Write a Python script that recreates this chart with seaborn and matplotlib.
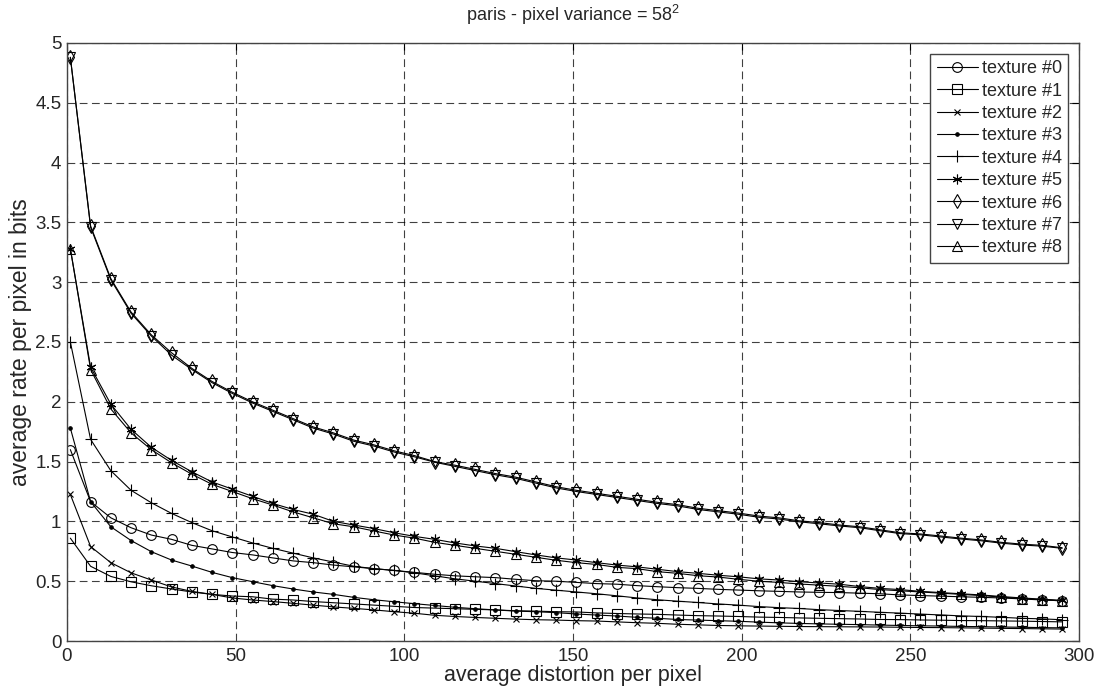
import numpy as np
import pandas as pd
import matplotlib
matplotlib.use("Agg")
import matplotlib.pyplot as plt
import seaborn as sns

# ---- data ----
distortion = [1, 7, 13, 19, 25, 31, 37, 43, 49, 55, 61, 67, 73, 79, 85, 91, 97, 103, 109, 115,
              121, 127, 133, 139, 145, 151, 157, 163, 169, 175, 181, 187, 193, 199, 205, 211, 217,
              223, 229, 235, 241, 247, 253, 259, 265, 271, 277, 283, 289, 295]

texture0 = [1.60, 1.165, 1.03, 0.947, 0.886, 0.85, 0.80, 0.77, 0.74, 0.72, 0.695, 0.67, 0.655,
            0.635, 0.62, 0.605, 0.59, 0.574, 0.558, 0.545, 0.537, 0.53, 0.516, 0.504, 0.50, 0.49,
            0.48, 0.475, 0.463, 0.454, 0.446, 0.44, 0.432, 0.426, 0.42, 0.415, 0.41, 0.407, 0.405,
            0.40, 0.395, 0.385, 0.38, 0.375, 0.37, 0.365, 0.36, 0.352, 0.343, 0.337]
texture1 = [0.86, 0.625, 0.54, 0.495, 0.462, 0.435, 0.41, 0.39, 0.376, 0.37, 0.35, 0.343, 0.33,
            0.32, 0.31, 0.30, 0.29, 0.28, 0.275, 0.27, 0.265, 0.26, 0.253, 0.25, 0.245, 0.243,
            0.235, 0.23, 0.226, 0.223, 0.217, 0.212, 0.209, 0.205, 0.20, 0.197, 0.193, 0.19, 0.187,
            0.184, 0.18, 0.179, 0.176, 0.174, 0.171, 0.17, 0.168, 0.166, 0.163, 0.16]
texture2 = [1.225, 0.79, 0.655, 0.57, 0.51, 0.452, 0.415, 0.39, 0.36, 0.343, 0.33, 0.315, 0.30,
            0.285, 0.273, 0.26, 0.245, 0.232, 0.215, 0.205, 0.197, 0.19, 0.183, 0.178, 0.175, 0.17,
            0.167, 0.16, 0.153, 0.148, 0.14, 0.135, 0.13, 0.127, 0.125, 0.123, 0.121, 0.12, 0.119,
            0.118, 0.117, 0.115, 0.113, 0.112, 0.11, 0.108, 0.106, 0.104, 0.102, 0.10]
texture3 = [1.78, 1.165, 0.955, 0.84, 0.747, 0.677, 0.627, 0.574, 0.53, 0.496, 0.463, 0.435, 0.41,
            0.39, 0.365, 0.345, 0.328, 0.312, 0.297, 0.282, 0.27, 0.26, 0.25, 0.245, 0.237, 0.226,
            0.217, 0.209, 0.198, 0.19, 0.18, 0.175, 0.17, 0.165, 0.158, 0.152, 0.147, 0.143, 0.14,
            0.137, 0.133, 0.13, 0.127, 0.125, 0.122, 0.12, 0.117, 0.115, 0.112, 0.11]
texture4 = [2.50, 1.686, 1.424, 1.26, 1.156, 1.067, 0.99, 0.922, 0.87, 0.82, 0.775, 0.735, 0.695,
            0.66, 0.625, 0.605, 0.59, 0.57, 0.545, 0.52, 0.50, 0.48, 0.46, 0.44, 0.425, 0.41, 0.395,
            0.378, 0.36, 0.345, 0.333, 0.322, 0.31, 0.30, 0.288, 0.279, 0.272, 0.262, 0.255, 0.248,
            0.24, 0.233, 0.225, 0.218, 0.21, 0.205, 0.198, 0.19, 0.185, 0.178]
texture5 = [3.28, 2.29, 1.98, 1.77, 1.62, 1.51, 1.415, 1.33, 1.27, 1.21, 1.15, 1.10, 1.06, 1.00,
            0.97, 0.94, 0.905, 0.875, 0.85, 0.82, 0.795, 0.775, 0.747, 0.72, 0.695, 0.677, 0.655,
            0.635, 0.62, 0.60, 0.58, 0.566, 0.55, 0.537, 0.52, 0.51, 0.496, 0.485, 0.475, 0.455,
            0.44, 0.43, 0.415, 0.405, 0.395, 0.385, 0.372, 0.36, 0.35, 0.34]
texture6 = [4.88, 3.47, 3.03, 2.75, 2.56, 2.41, 2.28, 2.17, 2.08, 2.00, 1.93, 1.86, 1.79, 1.74,
            1.68, 1.64, 1.59, 1.55, 1.50, 1.47, 1.435, 1.40, 1.37, 1.33, 1.29, 1.26, 1.235, 1.21,
            1.185, 1.16, 1.14, 1.11, 1.09, 1.07, 1.045, 1.03, 1.005, 0.99, 0.97, 0.955, 0.93, 0.905,
            0.895, 0.878, 0.86, 0.845, 0.825, 0.81, 0.80, 0.78]
texture7 = [4.88, 3.46, 3.02, 2.74, 2.55, 2.39, 2.27, 2.16, 2.07, 1.99, 1.92, 1.85, 1.78, 1.73,
            1.67, 1.63, 1.58, 1.54, 1.495, 1.46, 1.425, 1.39, 1.36, 1.32, 1.28, 1.25, 1.225, 1.20,
            1.175, 1.15, 1.13, 1.10, 1.08, 1.06, 1.035, 1.02, 0.997, 0.98, 0.962, 0.947, 0.922,
            0.898, 0.888, 0.87, 0.853, 0.838, 0.818, 0.803, 0.793, 0.775]
texture8 = [3.28, 2.27, 1.94, 1.74, 1.60, 1.49, 1.395, 1.31, 1.25, 1.19, 1.137, 1.08, 1.03, 0.98,
            0.955, 0.92, 0.886, 0.86, 0.825, 0.80, 0.775, 0.75, 0.725, 0.70, 0.675, 0.655, 0.64,
            0.616, 0.605, 0.58, 0.566, 0.546, 0.535, 0.516, 0.50, 0.49, 0.477, 0.467, 0.457, 0.445,
            0.43, 0.42, 0.41, 0.40, 0.39, 0.38, 0.367, 0.355, 0.345, 0.335]

labels = ["texture #0", "texture #1", "texture #2", "texture #3", "texture #4",
          "texture #5", "texture #6", "texture #7", "texture #8"]
series = [texture0, texture1, texture2, texture3, texture4, texture5, texture6, texture7, texture8]
x_ticks = [0, 50, 100, 150, 200, 250, 300]
y_ticks = [0, 0.5, 1, 1.5, 2, 2.5, 3, 3.5, 4, 4.5, 5]

# ---- style ----
sns.set_style("white")
plt.rcParams['font.family'] = ['Liberation Sans', 'DejaVu Sans']
plt.rcParams['mathtext.fontset'] = 'custom'
plt.rcParams['mathtext.rm'] = 'Liberation Sans'
plt.rcParams['mathtext.it'] = 'Liberation Sans'

markers = ['o', 's', 'x', '.', '+', (6, 2, 0), 'd', 'v', '^']
msizes = [7, 7, 5, 5, 8, 7, 7, 7, 7]

fig = plt.figure(figsize=(10.98, 6.90), dpi=100)
ax = fig.add_axes([0.061, 0.071, 0.9217, 0.8667])

for lab, vals, mk, ms in zip(labels, series, markers, msizes):
    df = pd.DataFrame({"x": distortion, "y": vals})
    filled = mk in ('.',)
    sns.lineplot(data=df, x="x", y="y", ax=ax, color="black", linewidth=0.8,
                 marker=mk, markersize=ms,
                 markerfacecolor=("black" if filled else "none"),
                 markeredgecolor="black", markeredgewidth=0.8, label=lab)

ax.set_xlim(0, 300)
ax.set_ylim(0, 5)
ax.set_xticks(x_ticks)
ax.set_yticks(y_ticks)
ax.set_xticklabels([f"{t:g}" for t in x_ticks])
ax.set_yticklabels([f"{t:g}" for t in y_ticks])
ax.tick_params(direction='in', length=5, width=0.8, labelsize=13.5, color='black',
               top=True, right=True, pad=4)
ax.tick_params(axis='x', pad=5)
ax.grid(True, color='black', linestyle=(0, (7, 4)), linewidth=0.8, alpha=0.75)
for s in ax.spines.values():
    s.set_color('#444444')
    s.set_linewidth(1.0)

ax.set_xlabel("average distortion per pixel", fontsize=15.5, labelpad=0)
ax.set_ylabel("average rate per pixel in bits", fontsize=16.5, labelpad=2)
ax.set_title("paris - pixel variance = 58$^2$", fontsize=13, pad=16)

leg = ax.legend(loc="upper right", fontsize=13, frameon=True, fancybox=False,
                edgecolor="#444444", framealpha=1, borderpad=0.35, labelspacing=0.3,
                handlelength=2.3, handletextpad=0.2, borderaxespad=0.6)
leg.get_frame().set_linewidth(1.0)

fig.savefig("out.png", dpi=100)
